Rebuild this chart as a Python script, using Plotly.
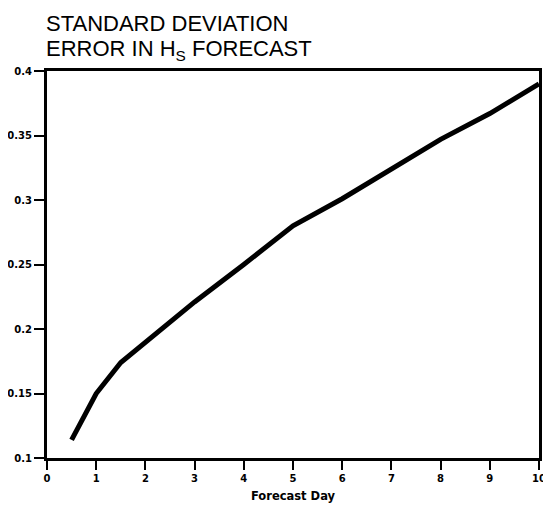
import plotly.graph_objects as go

forecast_day = [0.5, 1, 1.5, 2, 3, 4, 5, 6, 7, 8, 9, 10]
std_error = [0.114, 0.150, 0.174, 0.190, 0.221, 0.250, 0.280, 0.301, 0.324, 0.347, 0.367, 0.390]

x_ticks = [0, 1, 2, 3, 4, 5, 6, 7, 8, 9, 10]
y_ticks = [0.1, 0.15, 0.2, 0.25, 0.3, 0.35, 0.4]
y_tick_labels = ["0.1", "0.15", "0.2", "0.25", "0.3", "0.35", "0.4"]

title_line1 = "STANDARD DEVIATION"
title_line2 = "ERROR IN H<sub>S</sub> FORECAST"

# page body has an 8px margin; figure is sized/offset to compensate
OFF = 8
L, R, T, B = 47 - OFF, 12, 71 - OFF, 47
W, H = 551 - OFF, 505 - OFF
PH = H - T - B

fig = go.Figure()
fig.add_trace(go.Scatter(
    x=forecast_day, y=std_error, mode="lines",
    line=dict(color="black", width=5),
    showlegend=False, hoverinfo="skip",
))

tickfont = dict(family="DejaVu Sans", size=10, color="black", weight="bold")

fig.update_layout(
    width=W, height=H,
    margin=dict(l=L, r=R, t=T, b=B, autoexpand=False),
    paper_bgcolor="white", plot_bgcolor="white",
    xaxis=dict(
        range=[0, 10], tickvals=x_ticks, ticks="outside", ticklen=9, tickwidth=1.5,
        tickcolor="black", showline=True, linecolor="black", linewidth=3, mirror=True,
        showgrid=False, zeroline=False, tickfont=tickfont, automargin=False,
        title=dict(text="Forecast Day", font=dict(family="DejaVu Sans", size=11.5, color="black", weight="bold"), standoff=9),
    ),
    yaxis=dict(
        range=[0.1, 0.4], tickvals=y_ticks, ticktext=y_tick_labels, ticks="outside", ticklen=10,
        tickwidth=1.5, tickcolor="black", showline=True, linecolor="black", linewidth=3,
        mirror=True, showgrid=False, zeroline=False, tickfont=tickfont, automargin=False,
    ),
    annotations=[
        dict(text=title_line1, xref="paper", yref="paper", x=0, xshift=-3,
             y=1 + (71 - 23) / PH,
             xanchor="left", yanchor="middle", showarrow=False,
             font=dict(family="Liberation Sans", size=22, color="black")),
        dict(text=title_line2, xref="paper", yref="paper", x=0, xshift=-3,
             y=1 + (71 - 50) / PH,
             xanchor="left", yanchor="middle", showarrow=False,
             font=dict(family="Liberation Sans", size=22, color="black")),
    ],
)

fig.write_html("out.html")
